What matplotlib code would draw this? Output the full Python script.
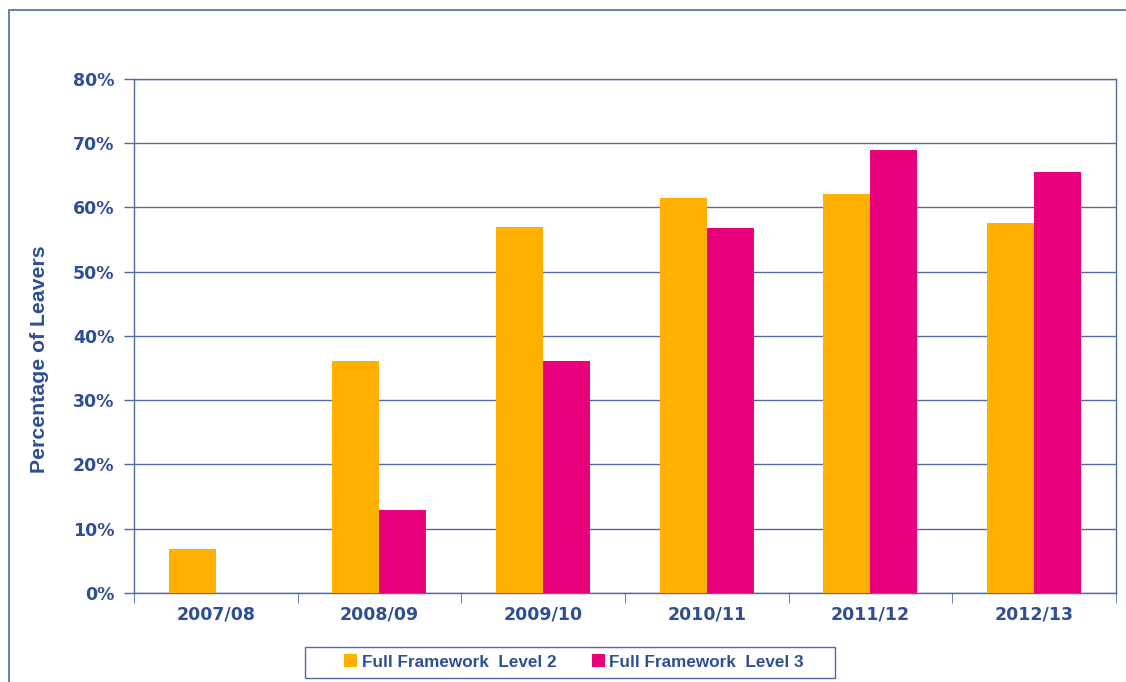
import numpy as np
from matplotlib import pyplot as plt
from matplotlib.patches import Rectangle
from matplotlib.ticker import FixedLocator, PercentFormatter

# Dados
anos = ["2007/08", "2008/09", "2009/10", "2010/11", "2011/12", "2012/13"]
nivel2 = [6.9, 36.1, 57.0, 61.5, 62.1, 57.6]
nivel3 = [np.nan, 12.9, 36.1, 56.8, 68.9, 65.5]
legendas = ["Full Framework  Level 2", "Full Framework  Level 3"]

azul = "#2F4F93"
linha = "#4F6AA6"
laranja = "#FFB000"
magenta = "#E8007D"

plt.rcParams['font.family'] = ['Liberation Sans', 'DejaVu Sans']

fig = plt.figure(figsize=(11.26, 6.82), dpi=100)
ax = fig.add_axes([0.119, 0.1305, 0.872, 0.7537])

x = np.arange(len(anos))
w = 0.287
b2 = ax.bar(x - w / 2, nivel2, w, color=laranja, label=legendas[0], zorder=3)
b3 = ax.bar(x + w / 2, nivel3, w, color=magenta, label=legendas[1], zorder=3)

ax.set_xlim(-0.5, len(anos) - 0.5)
ax.set_ylim(0, 80)
ax.set_yticks(np.arange(0, 81, 10))
ax.yaxis.set_major_formatter(PercentFormatter(decimals=0))
ax.grid(axis="y", color=linha, linewidth=1, zorder=0)

ax.set_xticks(x)
ax.set_xticklabels(anos)
ax.xaxis.set_minor_locator(FixedLocator(np.arange(-0.5, len(anos), 1)))
ax.tick_params(axis="x", which="major", length=0, pad=9)
ax.tick_params(axis="x", which="minor", length=7, color=linha, direction="out")
ax.tick_params(axis="y", length=7, color=linha, width=1, pad=7)
ax.tick_params(labelsize=12.5, labelcolor=azul)
for lab in ax.get_xticklabels() + ax.get_yticklabels():
    lab.set_fontweight("bold")
    lab.set_family("DejaVu Sans")

for s in ax.spines.values():
    s.set_color(linha)
    s.set_linewidth(1)

ax.set_ylabel("Percentage of Leavers", fontsize=15.3, fontweight="bold", color=azul)
ax.yaxis.set_label_coords(-0.087, 0.455)

leg = fig.legend(handles=[b2, b3], loc="center", bbox_to_anchor=(574 / 1126, 1 - 662 / 682), ncol=2,
                 frameon=False, fontsize=12.3,
                 handlelength=0.75, handleheight=0.75, handletextpad=0.25, columnspacing=2.1,
                 borderaxespad=0)
for t in leg.get_texts():
    t.set_color(azul)
    t.set_fontweight("bold")

# caixa da legenda
fig.patches.append(Rectangle((305 / 1126, 1 - 678 / 682), 530 / 1126, 31 / 682, transform=fig.transFigure,
                             fill=False, edgecolor=linha, linewidth=1))

# moldura externa
fig.patches.append(Rectangle((9 / 1126, -0.05), 1.2, 1 - 10 / 682 + 0.05, transform=fig.transFigure,
                             fill=False, edgecolor=linha, linewidth=1.2))

plt.savefig("out.png", dpi=100)
